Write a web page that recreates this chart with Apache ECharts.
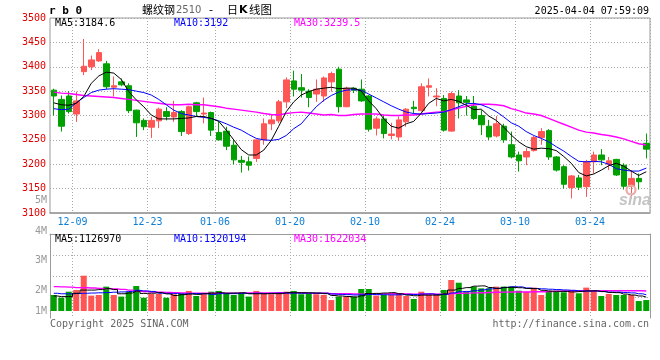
<!DOCTYPE html>
<html><head><meta charset="utf-8">
<script src="https://cdn.jsdelivr.net/npm/echarts@6/dist/echarts.min.js"></script>
<style>html,body{margin:0;padding:0;background:#fff}#c{width:660px;height:360px}</style>
</head><body><div id="c"></div>
<script>
// ---- data ----
const opens = [3352,3333,3340,3303,3390,3400,3412,3406,3358,3369,
 3361,3311,3290,3276,3289,3308,3297,3308,3263,3326,
 3303,3306,3265,3268,3239,3208,3205,3212,3250,3283,
 3289,3328,3371,3357,3350,3344,3340,3369,3395,3318,
 3356,3354,3340,3274,3293,3259,3256,3287,3317,3310,
 3358,3338,3335,3268,3340,3332,3319,3300,3278,3258,
 3278,3240,3219,3215,3228,3255,3269,3215,3195,3152,
 3172,3154,3205,3219,3200,3210,3198,3155,3171,3243];
const closes = [3340,3278,3308,3330,3401,3414,3429,3359,3361,3363,
 3310,3285,3277,3290,3313,3298,3306,3267,3318,3308,
 3305,3270,3250,3237,3209,3204,3198,3250,3283,3291,
 3328,3373,3354,3352,3337,3354,3377,3386,3318,3356,
 3352,3330,3272,3293,3263,3262,3291,3313,3314,3359,
 3361,3340,3270,3345,3326,3327,3294,3281,3256,3283,
 3250,3215,3207,3226,3255,3267,3215,3188,3159,3176,
 3153,3205,3219,3209,3207,3178,3155,3171,3164,3231];
const lows = [3300,3267,3304,3287,3383,3393,3410,3354,3339,3360,
 3305,3256,3270,3254,3274,3290,3287,3258,3260,3299,
 3284,3258,3249,3229,3200,3183,3187,3205,3240,3270,
 3284,3315,3339,3337,3317,3328,3328,3349,3306,3317,
 3346,3328,3267,3259,3253,3251,3248,3277,3304,3308,
 3339,3319,3267,3267,3294,3300,3291,3260,3250,3255,
 3244,3212,3185,3198,3226,3240,3209,3185,3150,3130,
 3147,3133,3181,3198,3188,3176,3148,3130,3148,3212];
const highs = [3355,3341,3350,3349,3457,3423,3436,3412,3380,3376,
 3366,3312,3294,3297,3316,3317,3330,3311,3320,3328,
 3337,3308,3287,3277,3250,3217,3216,3251,3294,3301,
 3332,3378,3392,3385,3354,3374,3380,3390,3400,3359,
 3358,3374,3342,3298,3301,3285,3298,3315,3330,3366,
 3376,3356,3342,3349,3352,3340,3340,3311,3291,3299,
 3283,3267,3226,3233,3258,3274,3272,3217,3198,3178,
 3178,3209,3226,3231,3215,3211,3202,3188,3181,3263];
const ma5 = [3326,3322,3321,3325,3339,3366,3381,3389,3387,3374,
 3349,3332,3318,3301,3293,3293,3293,3294,3295,3298,
 3298,3294,3288,3270,3250,3230,3219,3219,3229,3249,
 3278,3308,3328,3342,3349,3354,3356,3358,3355,3356,
 3356,3350,3330,3314,3293,3278,3274,3283,3288,3305,
 3325,3335,3330,3333,3329,3321,3312,3313,3299,3290,
 3276,3260,3246,3236,3231,3233,3232,3228,3216,3202,
 3183,3176,3180,3188,3197,3202,3196,3186,3177,3184.6];
const ma10 = [3314,3312,3313,3326,3337,3347,3352,3354,3355,3354,
 3353,3350,3347,3342,3333,3322,3311,3304,3301,3298,
 3296,3294,3289,3283,3276,3270,3261,3253,3250,3249,
 3251,3259,3273,3283,3301,3318,3331,3341,3348,3352,
 3353,3352,3344,3336,3328,3320,3313,3307,3304,3303,
 3304,3305,3307,3312,3318,3324,3325,3322,3316,3308,
 3297,3285,3278,3267,3259,3253,3246,3236,3227,3216,
 3206,3205,3206,3205,3200,3191,3188,3186,3186,3192];
const ma30 = [3348,3346,3345,3343,3341,3340,3339,3338,3337,3335,
 3333,3331,3329,3327,3325,3323,3322,3322,3323,3322,
 3322,3320,3318,3315,3313,3311,3309,3307,3304,3302,
 3301,3304,3306,3307,3305,3303,3301,3302,3300,3300,
 3302,3303,3303,3303,3301,3300,3300,3301,3301,3303,
 3305,3307,3308,3311,3315,3319,3322,3323,3323,3322,
 3320,3314,3310,3305,3303,3300,3294,3288,3282,3276,
 3270,3266,3264,3261,3259,3256,3252,3247,3242,3239.5];
const volumes = [1300000,1080000,1570000,1710000,2870000,1250000,1300000,1980000,1300000,1170000,
 1570000,2030000,1080000,1380000,1380000,1080000,1360000,1440000,1630000,1220000,
 1380000,1570000,1630000,1440000,1300000,1460000,1170000,1630000,1440000,1360000,
 1460000,1570000,1630000,1360000,1380000,1360000,1300000,890000,1170000,1170000,
 1170000,1790000,1790000,1250000,1300000,1300000,1380000,1220000,980000,1570000,
 1300000,1380000,1710000,2520000,2300000,1570000,1980000,1840000,1840000,1980000,
 1980000,1980000,1650000,1570000,1900000,1300000,1650000,1570000,1520000,1710000,
 1440000,1900000,1630000,1220000,1380000,1300000,1300000,1300000,810000,890000];
const volMa5 = [1220000,1170000,1170000,1440000,1700000,1700000,1740000,1820000,1740000,1400000,
 1460000,1610000,1430000,1450000,1490000,1390000,1260000,1330000,1380000,1350000,
 1410000,1450000,1490000,1450000,1460000,1480000,1400000,1400000,1400000,1410000,
 1410000,1490000,1490000,1480000,1480000,1460000,1410000,1260000,1220000,1180000,
 1140000,1240000,1420000,1430000,1460000,1490000,1400000,1290000,1240000,1290000,
 1290000,1290000,1390000,1700000,1840000,1900000,2020000,2040000,1910000,1840000,
 1920000,1920000,1890000,1830000,1820000,1680000,1610000,1600000,1590000,1550000,
 1580000,1630000,1640000,1580000,1510000,1490000,1370000,1300000,1220000,1126970];
const volMa10 = [1440000,1400000,1390000,1420000,1440000,1460000,1480000,1500000,1530000,1550000,
 1580000,1680000,1630000,1590000,1440000,1430000,1430000,1380000,1410000,1420000,
 1400000,1350000,1410000,1410000,1410000,1440000,1420000,1440000,1420000,1440000,
 1450000,1450000,1450000,1440000,1450000,1440000,1450000,1380000,1350000,1330000,
 1300000,1320000,1340000,1330000,1320000,1310000,1320000,1350000,1340000,1380000,
 1390000,1350000,1340000,1470000,1570000,1590000,1650000,1720000,1800000,1840000,
 1910000,1970000,1960000,1870000,1830000,1800000,1770000,1740000,1710000,1680000,
 1630000,1620000,1620000,1580000,1530000,1530000,1500000,1470000,1400000,1320194];
const volMa30 = [1980000,1960000,1940000,1900000,1890000,1870000,1840000,1820000,1790000,1760000,
 1700000,1630000,1580000,1540000,1520000,1500000,1480000,1460000,1450000,1440000,
 1440000,1440000,1440000,1450000,1450000,1450000,1460000,1460000,1460000,1470000,
 1480000,1490000,1490000,1480000,1430000,1440000,1440000,1400000,1400000,1400000,
 1380000,1370000,1400000,1390000,1390000,1400000,1400000,1390000,1370000,1380000,
 1380000,1370000,1370000,1410000,1440000,1450000,1470000,1480000,1500000,1520000,
 1530000,1550000,1550000,1550000,1570000,1570000,1580000,1600000,1620000,1630000,
 1640000,1650000,1640000,1640000,1640000,1640000,1640000,1640000,1640000,1622034];
const tickDates = ['12-09','12-23','01-06','01-20','02-10','02-24','03-10','03-24'];
const volTickLabels = ['5M','4M','3M','2M','1M'];
const priceMin = 3100, priceMax = 3500, priceStep = 50;
const maTexts = ['MA5:3184.6','MA10:3192','MA30:3239.5'];
const volMaTexts = ['MA5:1126970','MA10:1320194','MA30:1622034'];

// trading-day categories
const holidays = ['2025-01-01','2025-01-28','2025-01-29','2025-01-30','2025-01-31','2025-02-03'];
const dates = [];
for (let d = new Date(Date.UTC(2024, 11, 5)); dates.length < opens.length; d.setUTCDate(d.getUTCDate() + 1)) {
  const wd = d.getUTCDay();
  if (wd === 0 || wd === 6) continue;
  const s = d.toISOString().slice(0, 10);
  if (holidays.includes(s)) continue;
  dates.push(s);
}
const labelIdx = dates.map((d, i) => tickDates.includes(d.slice(5)) ? i : -1).filter(i => i >= 0);

const UP = '#ff5555', DOWN = '#00a000';
const MONO = '"DejaVu Sans Mono", monospace';
const CJK = '"Noto Sans CJK SC"';
const GRIDC = '#a8a8a8', BORDER = '#9a9a9a';
const dotted = { color: GRIDC, type: [1, 2], width: 1 };

const chart = echarts.init(document.getElementById('c'), null, { renderer: 'canvas' });

function txt(x, y, text, fill, font, align) {
  return { type: 'text', x: x, y: y, silent: true, z: 100,
    style: { text: text, fill: fill, font: font, align: align || 'left', verticalAlign: 'middle' } };
}
const volLabelY = [200, 231, 260, 290, 311.5];
const graphics = [
  txt(49, 11, 'r b 0', '#000', 'bold 11px ' + MONO),
  txt(142, 10, '螺纹钢', '#000', '11px ' + CJK),
  txt(176, 10.5, '2510', '#666', '10px "DejaVu Sans"'),
  txt(209, 10, '-', '#000', '11px "DejaVu Sans"'),
  txt(227, 10, '日', '#000', '11px ' + CJK),
  txt(239, 10.5, 'K', '#000', 'bold 11px "DejaVu Sans"'),
  txt(249, 10, '线图', '#000', '11.5px ' + CJK),
  txt(649, 11, '2025-04-04 07:59:09', '#000', '10px ' + MONO, 'right'),
  txt(55, 23.5, maTexts[0], '#000', '10px ' + MONO),
  txt(174, 23.5, maTexts[1], '#0000ff', '10px ' + MONO),
  txt(294, 23.5, maTexts[2], '#ff00ff', '10px ' + MONO),
  txt(55, 239, volMaTexts[0], '#000', '10px ' + MONO),
  txt(174, 239, volMaTexts[1], '#0000ff', '10px ' + MONO),
  txt(294, 239, volMaTexts[2], '#ff00ff', '10px ' + MONO),
  txt(50, 324, 'Copyright 2025 SINA.COM', '#666', '10px ' + MONO),
  txt(649, 324, 'http://finance.sina.com.cn', '#666', '10px ' + MONO, 'right'),
  txt(619, 201, 'sina', '#c4c4c4', 'italic bold 16px "Liberation Sans"'),
  { type: 'circle', silent: true, z: 99, shape: { cx: 631, cy: 190, r: 4.5 },
    style: { fill: 'none', stroke: '#f0a8a8', lineWidth: 2.2 } }
];
volTickLabels.forEach((t, i) => graphics.push(txt(47, volLabelY[i], t, '#999', '10px ' + MONO, 'right')));

const catAxisBase = {
  type: 'category', data: dates, boundaryGap: true,
  axisTick: { show: false },
  splitLine: { show: true, interval: (idx) => labelIdx.includes(idx - 1), lineStyle: dotted }
};

chart.setOption({
  animation: false,
  backgroundColor: '#fff',
  grid: [
    { left: 50, top: 18, width: 600, height: 195, show: true, borderColor: BORDER, borderWidth: 1 },
    { left: 50, top: 234, width: 600, height: 84 }
  ],
  xAxis: [
    Object.assign({}, catAxisBase, {
      gridIndex: 0,
      axisLine: { show: true, onZero: false, lineStyle: { color: BORDER, width: 1.5 } },
      axisLabel: { interval: (idx) => labelIdx.includes(idx), formatter: (v) => v.slice(5),
        color: '#0d7fd6', fontSize: 10, fontFamily: MONO, margin: 4, padding: [0, 0, 0, 7.5] }
    }),
    Object.assign({}, catAxisBase, {
      gridIndex: 1, position: 'top',
      axisLine: { show: true, onZero: false, lineStyle: { color: BORDER, width: 1 } },
      axisLabel: { show: false }
    })
  ],
  yAxis: [
    { gridIndex: 0, type: 'value', min: priceMin, max: priceMax, interval: priceStep,
      axisLine: { show: false }, axisTick: { show: false },
      axisLabel: { color: '#e00000', fontSize: 10, fontFamily: MONO, margin: 4, formatter: (v) => String(v) },
      splitLine: { show: true, lineStyle: dotted } },
    { gridIndex: 1, type: 'value', min: -570000, max: 6260000,
      axisLine: { show: true, onZero: false, lineStyle: { color: BORDER } },
      axisTick: { show: false }, axisLabel: { show: false }, splitLine: { show: false } },
    { gridIndex: 1, type: 'value', min: 0, max: 4, interval: 1, position: 'right',
      axisLine: { show: true, onZero: false, lineStyle: { color: BORDER } },
      axisTick: { show: false }, axisLabel: { show: false },
      splitLine: { show: true, showMinLine: false, showMaxLine: false, lineStyle: dotted } }
  ],
  series: [
    { type: 'candlestick', xAxisIndex: 0, yAxisIndex: 0, barWidth: 6,
      data: opens.map((o, i) => [o, closes[i], lows[i], highs[i]]),
      itemStyle: { color: UP, color0: DOWN, borderColor: UP, borderColor0: DOWN, borderWidth: 1 } },
    { type: 'line', xAxisIndex: 0, yAxisIndex: 0, data: ma30, symbol: 'none', lineStyle: { color: '#ff00ff', width: 1.4 } },
    { type: 'line', xAxisIndex: 0, yAxisIndex: 0, data: ma10, symbol: 'none', lineStyle: { color: '#0000ff', width: 1 } },
    { type: 'line', xAxisIndex: 0, yAxisIndex: 0, data: ma5, symbol: 'none', lineStyle: { color: '#000000', width: 1 } },
    { type: 'bar', xAxisIndex: 1, yAxisIndex: 1, data: volumes, barWidth: 6,
      itemStyle: { color: (p) => closes[p.dataIndex] > opens[p.dataIndex] ? UP : DOWN } },
    { type: 'line', xAxisIndex: 1, yAxisIndex: 1, data: volMa30, step: 'middle', symbol: 'none', lineStyle: { color: '#ff00ff', width: 1.4 } },
    { type: 'line', xAxisIndex: 1, yAxisIndex: 1, data: volMa10, step: 'middle', symbol: 'none', lineStyle: { color: '#0000ff', width: 1 } },
    { type: 'line', xAxisIndex: 1, yAxisIndex: 1, data: volMa5, step: 'middle', symbol: 'none', lineStyle: { color: '#000000', width: 1 } }
  ],
  graphic: graphics
});
</script>
</body></html>
